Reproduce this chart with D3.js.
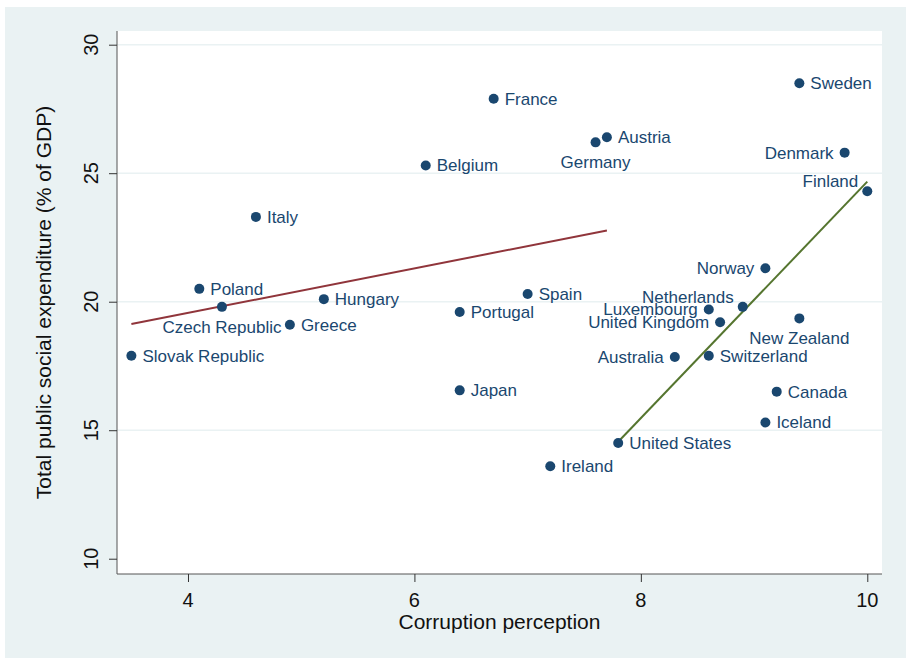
<!doctype html>
<html>
  <head>
    <meta charset="utf-8">
    <script src="https://cdnjs.cloudflare.com/ajax/libs/d3/7.8.5/d3.min.js"></script>
    <style>
      body { margin: 0; background: #fff; }
      text { font-family: "Liberation Sans", Arial, sans-serif; }
      .pt-label { fill: #1a476f; font-size: 17px; }
      .tick-label { fill: #111; font-size: 20px; }
      .axis-title { fill: #111; font-size: 21px; }
    </style>
  </head>
  <body>
    <script>
      // data
      var countries = ["Slovak Republic", "Poland", "Czech Republic", "Italy", "Greece", "Hungary",
        "Belgium", "France", "Portugal", "Japan", "Spain", "Ireland", "Germany", "Austria",
        "United States", "Australia", "Luxembourg", "Switzerland", "United Kingdom", "Netherlands",
        "Norway", "Iceland", "Canada", "New Zealand", "Sweden", "Denmark", "Finland"];
      var corruption = [3.5, 4.1, 4.3, 4.6, 4.9, 5.2,
        6.1, 6.7, 6.4, 6.4, 7.0, 7.2, 7.6, 7.7,
        7.8, 8.3, 8.6, 8.6, 8.7, 8.9,
        9.1, 9.1, 9.2, 9.4, 9.4, 9.8, 10.0];
      var expenditure = [17.9, 20.5, 19.8, 23.3, 19.1, 20.1,
        25.3, 27.9, 19.6, 16.55, 20.3, 13.6, 26.2, 26.4,
        14.5, 17.85, 19.7, 17.9, 19.2, 19.8,
        21.3, 15.3, 16.5, 19.35, 28.5, 25.8, 24.3];
      // clock position of each marker label
      var labelPos = [3, 3, 6, 3, 3, 3,
        3, 3, 3, 3, 3, 3, 6, 3,
        3, 9, 9, 3, 9, 10,
        9, 3, 3, 6, 3, 9, 10];

      // fitted lines (end points)
      var fitLowX = [3.5, 7.7], fitLowY = [19.13, 22.77];
      var fitHighX = [7.8, 10.0], fitHighY = [14.55, 24.67];

      var xTicks = [4, 6, 8, 10];
      var yTicks = [10, 15, 20, 25, 30];

      var W = 906, H = 662;
      var plot = {left: 117, right: 882, top: 31, bottom: 574};

      var svg = d3.select("body").append("svg")
          .attr("width", W)
          .attr("height", H);

      svg.append("rect")
          .attr("x", 5).attr("y", 7)
          .attr("width", W - 5).attr("height", 651)
          .attr("fill", "#eaf2f3");

      svg.append("rect")
          .attr("x", plot.left).attr("y", plot.top)
          .attr("width", plot.right - plot.left)
          .attr("height", plot.bottom - plot.top)
          .attr("fill", "#fff");

      var x = d3.scaleLinear().domain([3.373, 10.13]).range([plot.left, plot.right]);
      var y = d3.scaleLinear().domain([9.405, 30.533]).range([plot.bottom, plot.top]);

      // grid
      svg.selectAll("line.grid")
        .data(yTicks.filter(d => d > 10))
        .enter().append("line")
          .attr("class", "grid")
          .attr("x1", plot.left).attr("x2", plot.right)
          .attr("y1", d => y(d)).attr("y2", d => y(d))
          .attr("stroke", "#eaf2f3")
          .attr("stroke-width", 1.6);

      // y axis
      var yAxis = svg.append("g")
          .attr("transform", "translate(" + plot.left + ",0)")
          .call(d3.axisLeft(y).tickValues(yTicks).tickSize(8).tickFormat(""));
      yAxis.select(".domain").attr("d", "M0," + plot.top + "V" + plot.bottom).attr("stroke", "#555");
      yAxis.selectAll(".tick line").attr("stroke", "#333");

      svg.selectAll("text.ytick")
        .data(yTicks)
        .enter().append("text")
          .attr("class", "tick-label")
          .attr("text-anchor", "middle")
          .attr("transform", d => "translate(98," + y(d) + ") rotate(-90)")
          .text(d => d);

      // x axis
      var xAxis = svg.append("g")
          .attr("transform", "translate(0," + plot.bottom + ")")
          .call(d3.axisBottom(x).tickValues(xTicks).tickSize(8).tickFormat(""));
      xAxis.select(".domain").attr("d", "M" + plot.left + ",0H" + plot.right).attr("stroke", "#555");
      xAxis.selectAll(".tick line").attr("stroke", "#333");

      svg.selectAll("text.xtick")
        .data(xTicks)
        .enter().append("text")
          .attr("class", "tick-label")
          .attr("text-anchor", "middle")
          .attr("x", d => x(d))
          .attr("y", 607)
          .text(d => d);

      svg.append("text")
          .attr("class", "axis-title")
          .attr("text-anchor", "middle")
          .attr("x", (plot.left + plot.right) / 2)
          .attr("y", 629)
          .text("Corruption perception");

      svg.append("text")
          .attr("class", "axis-title")
          .attr("text-anchor", "middle")
          .attr("transform", "translate(51," + (plot.top + plot.bottom) / 2 + ") rotate(-90)")
          .text("Total public social expenditure (% of GDP)");

      // fit lines
      var line = d3.line().x(d => x(d[0])).y(d => y(d[1]));
      svg.append("path")
          .datum(d3.zip(fitLowX, fitLowY))
          .attr("d", line)
          .attr("fill", "none")
          .attr("stroke", "#90353b")
          .attr("stroke-width", 2);
      svg.append("path")
          .datum(d3.zip(fitHighX, fitHighY))
          .attr("d", line)
          .attr("fill", "none")
          .attr("stroke", "#55752f")
          .attr("stroke-width", 2);

      var pts = countries.map((c, i) => ({name: c, cx: corruption[i], ey: expenditure[i], pos: labelPos[i]}));

      svg.selectAll("circle.pt")
        .data(pts)
        .enter().append("circle")
          .attr("class", "pt")
          .attr("cx", d => x(d.cx))
          .attr("cy", d => y(d.ey))
          .attr("r", 5)
          .attr("fill", "#1a476f");

      var offs = {
        3: {dx: 11, dy: 6, anchor: "start"},
        9: {dx: -11, dy: 6, anchor: "end"},
        6: {dx: 0, dy: 26, anchor: "middle"},
        10: {dx: -9, dy: -4, anchor: "end"}
      };

      svg.selectAll("text.pt-label")
        .data(pts)
        .enter().append("text")
          .attr("class", "pt-label")
          .attr("x", d => x(d.cx) + offs[d.pos].dx)
          .attr("y", d => y(d.ey) + offs[d.pos].dy)
          .attr("text-anchor", d => offs[d.pos].anchor)
          .text(d => d.name);
    </script>
  </body>
</html>
